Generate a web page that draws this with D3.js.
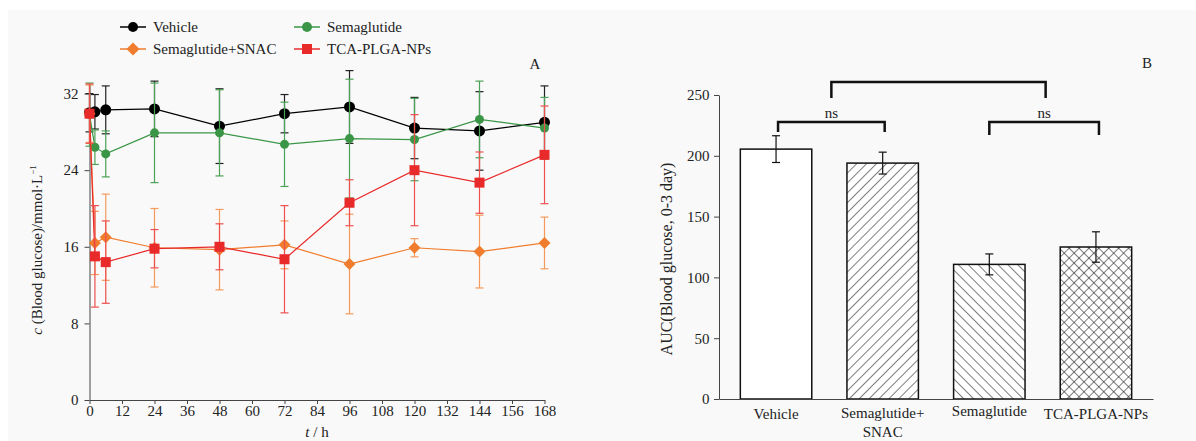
<!DOCTYPE html>
<meta charset="utf-8">
<script src="https://d3js.org/d3.v7.min.js"></script>
<style>
body { margin: 0; background: #fff; }
svg, svg text { font-family: "Liberation Serif", "DejaVu Serif", "Times New Roman", Times, serif !important; }
svg text { fill: #222; }
.axis path, .axis line { stroke: #444; }
</style>
<body>
<svg id="chart" width="1196" height="441" font-family="Liberation Serif, DejaVu Serif, serif"></svg>
<script>

// ---- data, panel A (blood glucose over time) ----
var times = [0, 2, 6, 24, 48, 72, 96, 120, 144, 168];
var vehicle     = [30.0, 30.1, 30.3, 30.4, 28.6, 29.9, 30.6, 28.4, 28.1, 29.0];
var vehicleErr  = [2.0, 1.8, 2.5, 2.9, 3.9, 2.0, 3.8, 3.2, 4.1, 3.8];
var sema        = [29.8, 26.4, 25.7, 27.9, 27.9, 26.7, 27.3, 27.2, 29.3, 28.4];
var semaErr     = [3.3, 1.8, 2.4, 5.2, 4.5, 4.4, 6.2, 4.3, 4.0, 3.2];
var semaSnac    = [29.9, 16.4, 17.0, 15.9, 15.7, 16.2, 14.2, 15.9, 15.5, 16.4];
var semaSnacErr = [3.0, 3.3, 4.5, 4.1, 4.2, 2.5, 5.2, 0.95, 3.8, 2.7];
var tcaNps      = [29.9, 15.0, 14.4, 15.8, 16.0, 14.7, 20.6, 24.0, 22.7, 25.6];
var tcaNpsErr   = [3.1, 5.3, 4.3, 2.0, 2.4, 5.6, 2.4, 5.8, 3.2, 5.1];
var yTicksA = [0, 8, 16, 24, 32];
var xTicksA = [0, 12, 24, 36, 48, 60, 72, 84, 96, 108, 120, 132, 144, 156, 168];

// ---- data, panel B (AUC) ----
var groups  = ["Vehicle", "Semaglutide+SNAC", "Semaglutide", "TCA-PLGA-NPs"];
var aucVals = [205.5, 194, 110.7, 125];
var aucErr  = [11, 9, 8.6, 12.5];
var yTicksB = [0, 50, 100, 150, 200, 250];

var series = [
  {name: "Vehicle", vals: vehicle, err: vehicleErr, color: "#000000", errColor: "#222", shape: "circle", size: 5.5},
  {name: "Semaglutide", vals: sema, err: semaErr, color: "#3a9646", errColor: "#4aa356", shape: "circle", size: 4.5},
  {name: "Semaglutide+SNAC", vals: semaSnac, err: semaSnacErr, color: "#f07d2e", errColor: "#f49a5c", shape: "diamond", size: 6},
  {name: "TCA-PLGA-NPs", vals: tcaNps, err: tcaNpsErr, color: "#e82a2a", errColor: "#ee5050", shape: "square", size: 5}
];

var svg = d3.select("#chart");
var FONT = "Liberation Serif, DejaVu Serif, serif";

// light grey page background like the scan
svg.append("rect").attr("x", 8).attr("y", 10).attr("width", 1188).attr("height", 431).attr("fill", "#f9f9f9");

// =================== Panel A ===================
var x = d3.scaleLinear().domain([0, 168]).range([89.5, 544.5]);
var y = d3.scaleLinear().domain([0, 33]).range([400, 84]);

var gxA = svg.append("g").attr("class", "axis")
  .attr("transform", "translate(0,400)")
  .call(d3.axisBottom(x).tickValues(xTicksA).tickSize(4).tickSizeOuter(0));
gxA.attr("font-family", FONT);
gxA.selectAll("text").attr("font-size", 15).attr("y", 5);

var gyA = svg.append("g").attr("class", "axis")
  .attr("transform", "translate(89.5,0)")
  .call(d3.axisLeft(y).tickValues(yTicksA).tickSize(5).tickSizeOuter(0));
gyA.attr("font-family", FONT);
gyA.selectAll("text").attr("font-size", 15).attr("dx", "-0.2em");

function drawMarker(g, shape, cx, cy, s, color) {
  if (shape === "circle") {
    g.append("circle").attr("cx", cx).attr("cy", cy).attr("r", s).attr("fill", color);
  } else if (shape === "square") {
    g.append("rect").attr("x", cx - s).attr("y", cy - s).attr("width", 2 * s).attr("height", 2 * s).attr("fill", color);
  } else {
    g.append("path").attr("d", "M" + cx + "," + (cy - s) + "L" + (cx + s) + "," + cy + "L" + cx + "," + (cy + s) + "L" + (cx - s) + "," + cy + "Z").attr("fill", color);
  }
}

var line = d3.line().x(function(d) { return x(d[0]); }).y(function(d) { return y(d[1]); });

series.forEach(function(s) {
  var pts = times.map(function(t, i) { return [t, s.vals[i], s.err[i]]; });
  var g = svg.append("g");
  g.append("path").datum(pts).attr("d", line).attr("fill", "none").attr("stroke", s.color).attr("stroke-width", 1.2);
  pts.forEach(function(p) {
    var cx = x(p[0]), top = y(p[1] + p[2]), bot = y(p[1] - p[2]);
    g.append("line").attr("x1", cx).attr("x2", cx).attr("y1", top).attr("y2", bot).attr("stroke", s.errColor).attr("stroke-width", 1.2);
    g.append("line").attr("x1", cx - 4).attr("x2", cx + 4).attr("y1", top).attr("y2", top).attr("stroke", s.errColor).attr("stroke-width", 1.2);
    g.append("line").attr("x1", cx - 4).attr("x2", cx + 4).attr("y1", bot).attr("y2", bot).attr("stroke", s.errColor).attr("stroke-width", 1.2);
  });
  pts.forEach(function(p) { drawMarker(g, s.shape, x(p[0]), y(p[1]), s.size, s.color); });
});

// legend
var legPos = [[120, 27], [294, 27], [120, 49], [294, 49]];
series.forEach(function(s, i) {
  var p = legPos[i];
  var lg = svg.append("g");
  lg.append("line").attr("x1", p[0]).attr("x2", p[0] + 26).attr("y1", p[1]).attr("y2", p[1]).attr("stroke", s.color).attr("stroke-width", 1.5);
  drawMarker(lg, s.shape, p[0] + 13, p[1], s.shape === "diamond" ? 6.5 : 5, s.color);
  lg.append("text").attr("x", p[0] + 33).attr("y", p[1] + 5).attr("font-size", 15).text(s.name);
});

svg.append("text").attr("x", 535).attr("y", 69).attr("text-anchor", "middle").attr("font-size", 15).text("A");

// axis titles A
var ytA = svg.append("text").attr("transform", "translate(42,250) rotate(-90)").attr("text-anchor", "middle").attr("font-size", 15);
ytA.append("tspan").attr("font-style", "italic").text("c");
ytA.append("tspan").text(" (Blood glucose)/mmol\u00b7L");
ytA.append("tspan").attr("font-size", 9).attr("dy", -6).text("\u22121");

var xtA = svg.append("text").attr("x", 317).attr("y", 437).attr("text-anchor", "middle").attr("font-size", 15);
xtA.append("tspan").attr("font-style", "italic").text("t");
xtA.append("tspan").text(" / h");

// =================== Panel B ===================
var defs = svg.append("defs");
function hatch(id, angle, cross) {
  var p = defs.append("pattern").attr("id", id).attr("patternUnits", "userSpaceOnUse")
    .attr("width", 7).attr("height", 7).attr("patternTransform", "rotate(" + angle + ")");
  p.append("line").attr("x1", 0).attr("x2", 0).attr("y1", 0).attr("y2", 7).attr("stroke", "#111").attr("stroke-width", 1.1);
  if (cross) p.append("line").attr("x1", 0).attr("x2", 7).attr("y1", 0).attr("y2", 0).attr("stroke", "#111").attr("stroke-width", 1.1);
}
hatch("fwd", 45, false);
hatch("back", -45, false);
hatch("cross", 45, true);
var fills = ["#ffffff", "url(#fwd)", "url(#back)", "url(#cross)"];

var xb = d3.scaleBand().domain(groups).range([719, 1153]).paddingInner(0.33).paddingOuter(0.2);
var yb = d3.scaleLinear().domain([0, 250]).range([399, 95]);

var gyB = svg.append("g").attr("class", "axis")
  .attr("transform", "translate(719,0)")
  .call(d3.axisLeft(yb).tickValues(yTicksB).tickSize(5).tickSizeOuter(0));
gyB.attr("font-family", FONT);
gyB.selectAll("text").attr("font-size", 15).attr("dx", "-0.1em");

groups.forEach(function(gname, i) {
  var bx = xb(gname), bw = xb.bandwidth();
  svg.append("rect").attr("x", bx).attr("y", yb(aucVals[i])).attr("width", bw).attr("height", yb(0) - yb(aucVals[i]))
    .attr("fill", "#fff");
  svg.append("rect").attr("x", bx).attr("y", yb(aucVals[i])).attr("width", bw).attr("height", yb(0) - yb(aucVals[i]))
    .attr("fill", fills[i]).attr("stroke", "#111").attr("stroke-width", 1.5);
  var cx = bx + bw / 2, top = yb(aucVals[i] + aucErr[i]), bot = yb(aucVals[i] - aucErr[i]);
  svg.append("line").attr("x1", cx).attr("x2", cx).attr("y1", top).attr("y2", bot).attr("stroke", "#111").attr("stroke-width", 1.2);
  svg.append("line").attr("x1", cx - 4).attr("x2", cx + 4).attr("y1", top).attr("y2", top).attr("stroke", "#111").attr("stroke-width", 1.2);
  svg.append("line").attr("x1", cx - 4).attr("x2", cx + 4).attr("y1", bot).attr("y2", bot).attr("stroke", "#111").attr("stroke-width", 1.2);
});

var gxB = svg.append("g").attr("class", "axis")
  .attr("transform", "translate(0,399)")
  .call(d3.axisBottom(xb).tickSize(0).tickSizeOuter(0));
gxB.attr("font-family", FONT);
gxB.selectAll("text").remove();
gxB.selectAll(".tick").each(function(d) {
  var t = d3.select(this).append("text").attr("text-anchor", "middle").attr("font-size", 15).attr("fill", "#222");
  if (d === "Semaglutide+SNAC") {
    t.append("tspan").attr("x", 0).attr("y", 19).text("Semaglutide+");
    t.append("tspan").attr("x", 0).attr("y", 38).text("SNAC");
  } else {
    t.append("tspan").attr("x", 0).attr("y", d === "Semaglutide" ? 17 : 20).text(d);
  }
});

// significance brackets
function center(i) { return xb(groups[i]) + xb.bandwidth() / 2; }
function bracket(x1, x2, yTop, yBot1, yBot2, label) {
  svg.append("path").attr("d", "M" + x1 + "," + yBot1 + "V" + yTop + "H" + x2 + "V" + yBot2)
    .attr("fill", "none").attr("stroke", "#111").attr("stroke-width", 2.5);
  if (label) svg.append("text").attr("x", (x1 + x2) / 2).attr("y", yTop - 4).attr("text-anchor", "middle").attr("font-size", 15).text(label);
}
bracket(center(0) + 2, center(1) + 2, 122, 132, 132, "ns");
bracket(center(2), center(3) + 3, 122, 135, 135, "ns");
bracket((center(0) + center(1)) / 2 + 2, (center(2) + center(3)) / 2 + 3, 82, 98, 98, "");

svg.append("text").attr("x", 1147).attr("y", 68).attr("text-anchor", "middle").attr("font-size", 15).text("B");

svg.append("text").attr("transform", "translate(672,259) rotate(-90)").attr("text-anchor", "middle").attr("font-size", 16)
  .text("AUC(Blood glucose, 0-3 day)");

</script>
</body>
